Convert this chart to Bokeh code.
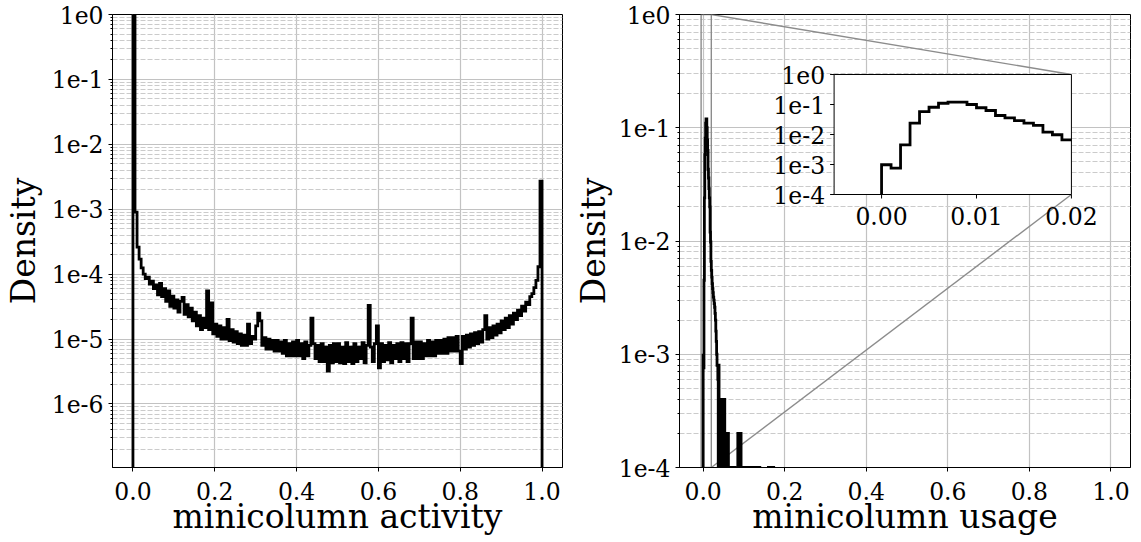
import numpy as np
from bokeh.plotting import figure
from bokeh.models import Range1d, FixedTicker, CustomJSTickFormatter
from bokeh.layouts import row
from bokeh.embed import file_html
from bokeh.resources import INLINE
from bokeh.core.properties import value

FONT = "DejaVu Serif"

# ---------------- data ----------------
# left: minicolumn activity histogram, 200 bins of width 0.005 on [0, 1], density in units of 1e-6
activity_edges = np.linspace(0.0, 1.0, 201)
activity_density_e6 = [
    2000000, 900, 260, 170, 125, 100, 85, 90, 70, 78,
    60, 68, 48, 72, 45, 60, 38, 55, 32, 46,
    30, 40, 26, 38, 44, 24, 34, 22, 30, 19,
    26, 16, 23, 14, 21, 15, 55, 14, 36, 12,
    17, 11, 16, 10, 15, 10, 20, 9.5, 14, 9,
    13, 8.5, 12, 8, 11.5, 8, 17, 8.5, 11, 10,
    16, 25, 19, 8, 10.5, 7, 10, 7, 9.5, 6.5,
    9.5, 6.5, 9, 6, 9.5, 5.5, 8.5, 5.5, 9, 5.5,
    9.5, 5.5, 8.5, 5, 9, 5.5, 8, 21, 8.5, 5,
    8, 4.5, 8.5, 4.5, 7.5, 3.2, 8, 4.3, 8.5, 4.5,
    8.5, 4.3, 7.5, 4.2, 8.8, 4.5, 7.5, 4.2, 8.5, 4.5,
    7.5, 5, 8.8, 4.3, 8, 33, 7.5, 4.5, 8.5, 16,
    3.6, 8.5, 4.5, 8, 4.8, 8.8, 4.3, 8, 5, 8.5,
    4.5, 8.8, 5, 8.5, 4.5, 8.5, 21, 5, 9, 5,
    9, 5, 8.5, 5.5, 9.5, 5.5, 9, 5.5, 9.5, 6,
    9.5, 6, 10, 6, 10.5, 6.5, 10.5, 6.5, 11, 6.5,
    4.2, 11, 7, 11.5, 7.5, 12, 8, 12.5, 8.5, 13,
    9, 14, 23, 10, 15, 10.5, 16, 11.5, 17, 12.5,
    19, 14, 21, 15, 23, 17, 25, 20, 28, 23,
    32, 27, 37, 34, 45, 50, 62, 80, 130, 2700,
]

# right: minicolumn usage histogram, 200 bins of width 0.001 on [0, 0.2], density in units of 1e-4
usage_edges = np.linspace(0.0, 0.2, 201)
usage_density_e4 = [
    9.8, 7.6, 45, 240, 580, 810, 1100, 1200, 1200, 1000,
    780, 630, 430, 360, 290, 240, 200, 120, 98, 66,
    55, 48, 42, 38, 35, 32, 30, 28, 26, 23,
    20, 16, 13, 10, 8, 8, 6, 0, 8, 4,
    0, 3, 4, 0, 2, 0, 4, 1, 0, 3,
    0, 2, 4, 0, 2, 0, 2, 0, 2, 1,
    0, 2, 0, 0, 0, 0, 1, 0, 0, 0,
    0, 1, 0, 0, 0, 0, 0, 1, 0, 0,
    0, 0, 0, 0, 0, 2, 0, 2, 0, 1,
    2, 0, 2, 0, 1, 0, 0, 0, 0, 0,
    1, 0, 0, 0, 1, 0, 0, 0, 0, 1,
    0, 0, 0, 1, 0, 0, 0, 0, 1, 0,
    0, 0, 0, 0, 1, 0, 0, 0, 0, 0,
    0, 1, 0, 0, 0, 0, 0, 0, 1, 0,
    0, 0, 0, 0, 0, 0, 0, 0, 0, 0,
    0, 0, 0, 0, 0, 0, 0, 0, 0, 0,
    1, 0, 0, 0, 0, 0, 1, 0, 0, 0,
    0, 0, 1, 0, 0, 0, 0, 0, 0, 0,
    0, 0, 0, 0, 0, 0, 0, 0, 0, 0,
    0, 0, 0, 0, 0, 0, 0, 0, 0, 0,
]

x_ticks = [0.0, 0.2, 0.4, 0.6, 0.8, 1.0]
left_decades = [1e0, 1e-1, 1e-2, 1e-3, 1e-4, 1e-5, 1e-6]
right_decades = [1e0, 1e-1, 1e-2, 1e-3, 1e-4]
inset_y_ticks = [1e0, 1e-1, 1e-2, 1e-3, 1e-4]
inset_y_labels = ["1e0", "1e-1", "1e-2", "1e-3", "1e-4"]
inset_x_ticks = [0.0, 0.01, 0.02]
inset_x_labels = ["0.00", "0.01", "0.02"]
inset_xlim = (-0.005, 0.02)
inset_ylim = (1e-4, 1e0)

activity_density = np.array(activity_density_e6) * 1e-6
usage_density = np.array(usage_density_e4) * 1e-4

FLOOR = 1e-12
GRID = "#c2c2c2"
MINOR = "#cbcbcb"
IND = "#8c8c8c"
LW = 2.8


def step_outline(edges, vals, floor, close_right=True):
    vals = np.where(vals > 0, vals, floor)
    xs = np.repeat(edges, 2)
    ys = np.concatenate([[floor], np.repeat(vals, 2), [floor]])
    if not close_right:
        xs, ys = xs[:-1], ys[:-1]
    return xs, ys


def minor_list(lo_exp, hi_exp):
    return [m * 10.0 ** e for e in range(lo_exp, hi_exp) for m in range(2, 10)]


log_fmt = CustomJSTickFormatter(code="return '1e' + Math.round(Math.log10(tick));")


def style(p, decades, minors, xlabel, ylabel_standoff):
    yt = FixedTicker(ticks=decades, minor_ticks=minors)
    xt = FixedTicker(ticks=x_ticks)
    p.yaxis.ticker = yt
    p.ygrid.ticker = yt
    p.xaxis.ticker = xt
    p.xgrid.ticker = xt
    p.yaxis.formatter = log_fmt
    p.xaxis.formatter = CustomJSTickFormatter(code="return tick.toFixed(1);")
    p.xgrid.grid_line_color = GRID
    p.ygrid.grid_line_color = GRID
    p.xgrid.grid_line_width = 1.2
    p.ygrid.grid_line_width = 1.2
    p.ygrid.minor_grid_line_color = MINOR
    p.ygrid.minor_grid_line_dash = "5 2"
    p.ygrid.minor_grid_line_width = 1
    for ax in (p.xaxis, p.yaxis):
        ax.major_label_text_font = FONT
        ax.major_label_text_font_size = "23.5px"
        ax.major_label_text_color = "black"
        ax.major_label_text_line_height = 1.0
        ax.axis_label_text_font = FONT
        ax.axis_label_text_font_size = "33px"
        ax.axis_label_text_font_style = "normal"
        ax.axis_label_text_color = "black"
        ax.axis_label_text_line_height = 1.0
        ax.axis_line_color = "black"
        ax.major_tick_line_color = "black"
        ax.major_tick_in = 0
        ax.major_tick_out = 4
    p.xaxis.minor_tick_line_color = None
    p.yaxis.minor_tick_line_color = "black"
    p.yaxis.minor_tick_in = 0
    p.yaxis.minor_tick_out = 2
    p.xaxis.major_label_standoff = 10
    p.xaxis.axis_label_standoff = -6
    p.yaxis.major_label_standoff = 5
    p.yaxis.axis_label_standoff = ylabel_standoff
    p.xaxis.axis_label = xlabel
    p.yaxis.axis_label = "Density"
    p.outline_line_color = "black"
    p.outline_line_width = 1
    p.outline_line_alpha = 1


H = 542
TOP = 14
FRAME_H = 453
# ---------------- left figure ----------------
p1 = figure(width=570, height=H, x_range=Range1d(-0.05, 1.05), y_range=Range1d(1.05e-7, 1.0),
            y_axis_type="log", output_backend="svg", toolbar_location=None,
            min_border_left=105, min_border_right=8, min_border_top=TOP,
            min_border_bottom=H - TOP - FRAME_H)
style(p1, left_decades, minor_list(-7, 0), "minicolumn activity", 6)
ax_, ay_ = step_outline(activity_edges, activity_density, FLOOR)
p1.line(ax_, ay_, line_color="black", line_width=LW, line_join="miter")

# ---------------- right figure ----------------
mx0, mx1 = -0.058, 1.048
my0, my1 = 1e-4, 1e0
p2 = figure(width=561, height=H, x_range=Range1d(mx0, mx1), y_range=Range1d(my0, my1),
            y_axis_type="log", output_backend="svg", toolbar_location=None,
            min_border_left=102, min_border_right=1, min_border_top=TOP,
            min_border_bottom=H - TOP - FRAME_H)
style(p2, right_decades, minor_list(-4, 0), "minicolumn usage", 3)

# inset placement inside the frame (fractions of frame width / height)
fx0, fx1 = 157 / 458, 398 / 458
fy0, fy1 = 273 / 453, 393 / 453  # from bottom
ix_span = (inset_xlim[1] - inset_xlim[0]) / (fx1 - fx0)
ix0 = inset_xlim[0] - fx0 * ix_span
ix1 = ix0 + ix_span
ly_lo, ly_hi = np.log10(inset_ylim[0]), np.log10(inset_ylim[1])
ly_span = (ly_hi - ly_lo) / (fy1 - fy0)
iy0 = 10 ** (ly_lo - fy0 * ly_span)
iy1 = 10 ** (ly_lo - fy0 * ly_span + ly_span)
p2.extra_x_ranges = {"inset": Range1d(ix0, ix1)}
p2.extra_y_ranges = {"inset": Range1d(iy0, iy1)}


def inset_to_main(x, y):
    fx = (x - ix0) / (ix1 - ix0)
    fy = (np.log10(y) - np.log10(iy0)) / (np.log10(iy1) - np.log10(iy0))
    return mx0 + fx * (mx1 - mx0), 10 ** (np.log10(my0) + fy * (np.log10(my1) - np.log10(my0)))


# indicator rectangle + connectors
p2.quad(left=[inset_xlim[0]], right=[inset_xlim[1]], bottom=[inset_ylim[0]], top=[inset_ylim[1]],
        fill_color=None, line_color=IND, line_width=1.4)
c_top = inset_to_main(inset_xlim[1], inset_ylim[1])
c_bot = inset_to_main(inset_xlim[1], inset_ylim[0])
p2.segment(x0=[inset_xlim[1], inset_xlim[1]], y0=[inset_ylim[1], inset_ylim[0]],
           x1=[c_top[0], c_bot[0]], y1=[c_top[1], c_bot[1]], line_color=IND, line_width=1.4)

ux, uy = step_outline(usage_edges, usage_density, FLOOR)
p2.line(ux, uy, line_color="black", line_width=LW, line_join="miter")

# inset axes
p2.quad(left=[inset_xlim[0]], right=[inset_xlim[1]], bottom=[inset_ylim[0]], top=[inset_ylim[1]],
        fill_color="white", line_color="black", line_width=1,
        x_range_name="inset", y_range_name="inset")
n_in = int(np.searchsorted(usage_edges, inset_xlim[1] + 1e-9))
sx, sy = step_outline(usage_edges[:n_in], np.clip(usage_density[:n_in - 1], inset_ylim[0], inset_ylim[1]),
                      inset_ylim[0], close_right=False)
p2.line(sx, sy, line_color="black", line_width=LW, line_join="miter",
        x_range_name="inset", y_range_name="inset")
p2.ray(x=[inset_xlim[0]] * len(inset_y_ticks), y=inset_y_ticks, length=4, length_units="screen",
       angle=np.pi, line_color="black", line_width=1, x_range_name="inset", y_range_name="inset")
p2.ray(x=inset_x_ticks, y=[inset_ylim[0]] * len(inset_x_ticks), length=4, length_units="screen",
       angle=-np.pi / 2, line_color="black", line_width=1, x_range_name="inset", y_range_name="inset")
p2.text(x=[inset_xlim[0]] * len(inset_y_ticks), y=inset_y_ticks, text=inset_y_labels,
        x_offset=-9, text_align="right", text_baseline="middle",
        text_font=value(FONT), text_font_size="23.5px", text_color="black",
        x_range_name="inset", y_range_name="inset")
p2.text(x=inset_x_ticks, y=[inset_ylim[0]] * len(inset_x_ticks), text=inset_x_labels,
        y_offset=12, text_align="center", text_baseline="top",
        text_font=value(FONT), text_font_size="23.5px", text_color="black",
        x_range_name="inset", y_range_name="inset")

layout = row(p1, p2)
layout.styles = {"margin-bottom": "-16px"}
open("out.html", "w").write(file_html(layout, INLINE))
